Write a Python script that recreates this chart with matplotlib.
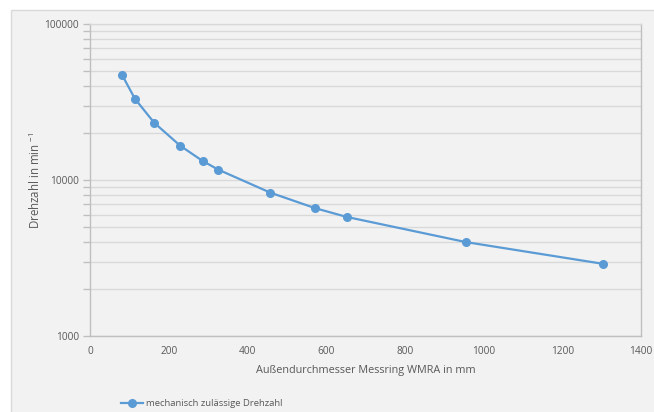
import matplotlib.pyplot as plt
from matplotlib.patches import Rectangle
from matplotlib.ticker import LogLocator, NullFormatter, FixedLocator

# Messring-Außendurchmesser (mm) und mechanisch zulässige Drehzahl (1/min)
durchmesser = [82, 114, 163, 229, 286, 326, 458, 572, 652, 955, 1304]
drehzahl = [46900, 33200, 23300, 16600, 13250, 11650, 8300, 6600, 5800, 4000, 2900]

x_ticks = [0, 200, 400, 600, 800, 1000, 1200, 1400]
y_ticks = [1000, 10000, 100000]

plt.rcParams['font.family'] = ['Open Sans', 'DejaVu Sans']
plt.rcParams['mathtext.default'] = 'regular'

text_col = '#595959'
grid_col = '#d9d9d9'
line_col = '#5b9bd5'
bg_col = '#f2f2f2'

W, H = 654, 412
fig = plt.figure(figsize=(W / 100, H / 100), dpi=100)
fig.patch.set_facecolor('white')

# chart area with light border
chart_bg = Rectangle((11 / W, -0.01), 1, 1.01 - 10 / H, transform=fig.transFigure,
                     facecolor=bg_col, edgecolor='#d9d9d9', linewidth=1, zorder=-10)
fig.add_artist(chart_bg)

ax = fig.add_axes([90 / W, 1 - 336 / H, (641 - 90) / W, (336 - 24) / H])
ax.set_facecolor(bg_col)

ax.plot(durchmesser, drehzahl, color=line_col, linewidth=1.6, marker='o',
        markersize=5.5, label='mechanisch zulässige Drehzahl', zorder=3)

ax.set_yscale('log')
ax.set_xlim(0, 1400)
ax.set_ylim(1000, 100000)
ax.xaxis.set_major_locator(FixedLocator(x_ticks))
ax.yaxis.set_major_locator(FixedLocator(y_ticks))
ax.set_yticklabels([str(v) for v in y_ticks])
ax.yaxis.set_minor_locator(LogLocator(base=10, subs=range(2, 10)))
ax.yaxis.set_minor_formatter(NullFormatter())

ax.grid(True, axis='y', which='both', color=grid_col, linewidth=1)
ax.set_axisbelow(True)

for side in ['left', 'bottom', 'right', 'top']:
    ax.spines[side].set_color('#bfbfbf')
    ax.spines[side].set_linewidth(1)
ax.spines['top'].set_color(grid_col)

ax.tick_params(axis='x', length=0, pad=7, labelsize=7.3, colors=text_col)
ax.tick_params(axis='y', which='major', length=5, width=1, color='#bfbfbf',
               pad=3, labelsize=7.3, labelcolor=text_col)
ax.tick_params(axis='y', which='minor', length=5, width=1, color='#bfbfbf')

ax.set_xlabel('Außendurchmesser Messring WMRA in mm', fontsize=7.8, color=text_col, labelpad=6)
ax.set_ylabel('Drehzahl in min $^{-1}$', fontsize=8.3, color=text_col, labelpad=1)

leg = fig.legend(loc='center left', bbox_to_anchor=(117 / W, 1 - 404 / H), frameon=False,
                 fontsize=6.8, handlelength=2.4, handletextpad=0.3, borderaxespad=0)
for t in leg.get_texts():
    t.set_color(text_col)

fig.savefig('out.png', dpi=100, facecolor=fig.get_facecolor())
